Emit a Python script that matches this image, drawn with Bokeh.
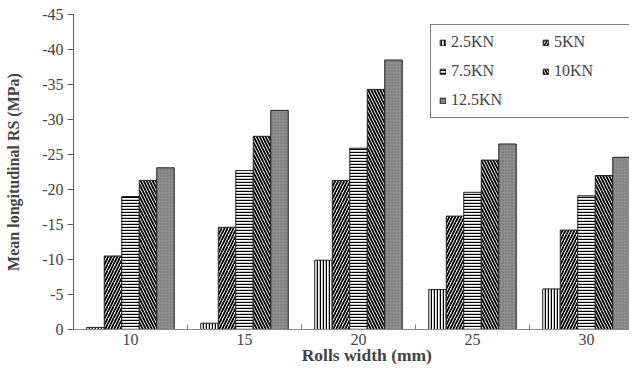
from bokeh.plotting import figure
from bokeh.models import Range1d, FixedTicker, Legend, LegendItem, ColumnDataSource
from bokeh.transform import dodge
from bokeh.embed import file_html
from bokeh.resources import INLINE

# ---- data ----
widths = ["10", "15", "20", "25", "30"]
s_2_5kn = [-0.3, -0.9, -9.9, -5.7, -5.8]
s_5kn = [-10.5, -14.6, -21.3, -16.2, -14.2]
s_7_5kn = [-19.0, -22.7, -25.9, -19.6, -19.1]
s_10kn = [-21.3, -27.6, -34.3, -24.2, -22.0]
s_12_5kn = [-23.1, -31.3, -38.5, -26.5, -24.6]
series_labels = ["2.5KN", "5KN", "7.5KN", "10KN", "12.5KN"]
y_ticks = [0, -5, -10, -15, -20, -25, -30, -35, -40, -45]
y_tick_labels = ["0", "-5", "-10", "-15", "-20", "-25", "-30", "-35", "-40", "-45"]

pos = [i + 0.5 for i in range(len(widths))]
src = ColumnDataSource(dict(x=pos, a=s_2_5kn, b=s_5kn, c=s_7_5kn, d=s_10kn, e=s_12_5kn))

FONT = "Liberation Serif"

p = figure(width=629, height=367, output_backend="svg", toolbar_location=None,
           x_range=Range1d(0, 4.877), y_range=Range1d(0, -45),
           min_border_left=73, min_border_right=0, min_border_top=14, min_border_bottom=37)
p.outline_line_color = None
p.xgrid.visible = False
p.ygrid.visible = False
p.background_fill_color = "white"

bw = 0.1535
styles = [
    dict(col="a", off=-2, fill_color="white", hatch_pattern="vertical_line", hatch_scale=3, hatch_weight=1.5, hatch_color="black"),
    dict(col="b", off=-1, fill_color="white", hatch_pattern="right_diagonal_line", hatch_scale=6, hatch_weight=1.8, hatch_color="black"),
    dict(col="c", off=0, fill_color="white", hatch_pattern="horizontal_line", hatch_scale=3, hatch_weight=1.4, hatch_color="black"),
    dict(col="d", off=1, fill_color="white", hatch_pattern="left_diagonal_line", hatch_scale=6, hatch_weight=1.8, hatch_color="black"),
    dict(col="e", off=2, fill_color="#8e8e8e", hatch_pattern="dot", hatch_scale=3, hatch_weight=1, hatch_color="#6a6a6a"),
]
renderers = []
for st in styles:
    r = p.vbar(x=dodge("x", st["off"] * bw, range=p.x_range), top=st["col"], bottom=0, width=bw,
               source=src, fill_color=st["fill_color"], line_color="#222222", line_width=1,
               hatch_pattern=st["hatch_pattern"], hatch_scale=st["hatch_scale"],
               hatch_weight=st["hatch_weight"], hatch_color=st["hatch_color"])
    renderers.append(r)

# x axis
xa = p.xaxis[0]
xa.ticker = FixedTicker(ticks=pos, minor_ticks=[1, 2, 3, 4])
xa.major_label_overrides = {pv: w for pv, w in zip(pos, widths)}
xa.major_tick_in = 0
xa.major_tick_out = 0
xa.minor_tick_in = 5
xa.minor_tick_out = 0
xa.minor_tick_line_color = "#808080"
xa.axis_line_color = "#8a8a8a"
xa.major_label_text_font = FONT
xa.major_label_text_font_size = "16px"
xa.major_label_standoff = 4
xa.axis_label = "\u00a0" * 7 + "Rolls width (mm)"
xa.axis_label_text_font = FONT
xa.axis_label_text_font_style = "bold"
xa.axis_label_text_font_size = "17.5px"
xa.axis_label_standoff = -3

# y axis
ya = p.yaxis[0]
ya.ticker = FixedTicker(ticks=y_ticks)
ya.major_label_overrides = {t: l for t, l in zip(y_ticks, y_tick_labels)}
ya.minor_tick_line_color = None
ya.major_tick_in = 0
ya.major_tick_out = 6
ya.major_tick_line_color = "#606060"
ya.axis_line_color = "#606060"
ya.major_label_text_font = FONT
ya.major_label_text_font_size = "16px"
ya.major_label_standoff = 4
ya.axis_label = "Mean longitudinal RS (MPa)"
ya.axis_label_text_font = FONT
ya.axis_label_text_font_style = "bold"
ya.axis_label_text_font_size = "16px"
ya.axis_label_standoff = 17

legend = Legend(items=[LegendItem(label=lab, renderers=[r]) for lab, r in zip(series_labels, renderers)],
                orientation="horizontal", ncols=2, location=(357, 211),
                glyph_width=7, glyph_height=7, label_standoff=5, label_width=80,
                spacing=11, padding=8, margin=0,
                label_text_font=FONT, label_text_font_size="16px",
                border_line_color="black", border_line_width=1,
                background_fill_color="white", background_fill_alpha=1)
p.add_layout(legend)

open("out.html", "w").write(file_html(p, INLINE))
